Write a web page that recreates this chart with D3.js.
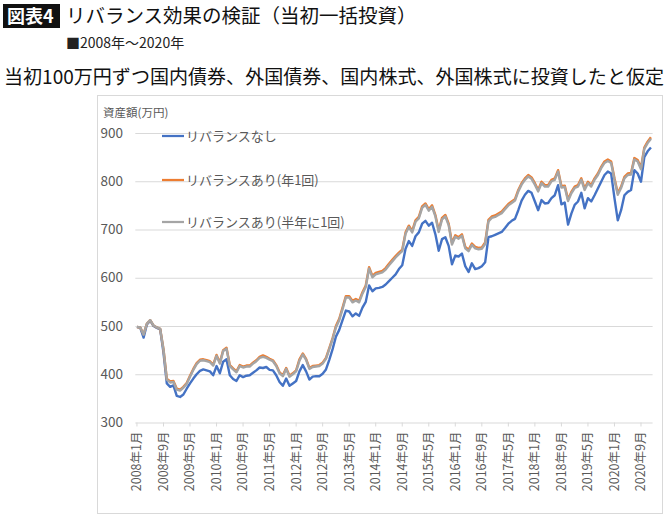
<!DOCTYPE html>
<html>
<head>
<meta charset="utf-8">
<script src="https://cdnjs.cloudflare.com/ajax/libs/d3/7.8.5/d3.min.js"></script>
<style>
  body { margin: 0; background: #fff; }
  svg { display: block; }
  text { font-family: "Noto Sans CJK JP", "Noto Sans", sans-serif; }
</style>
</head>
<body>
<div id="chart"></div>
<script>
// monthly categories, 2008-01 .. 2020-12
var months = d3.timeMonths(new Date(2008, 0, 1), new Date(2021, 0, 1));

// series (万円), one row per year
var noRebalance = [
  498,496,476,503,511,500,496,493,445,381,374,377,
  355,353,358,370,381,391,400,407,410,408,406,398,
  417,402,426,431,398,390,386,398,394,397,398,403,
  408,414,413,415,409,408,398,384,376,391,376,381,
  386,406,419,406,389,395,396,396,401,410,430,452,
  478,492,512,532,530,520,526,521,538,550,584,572,
  578,579,581,586,593,600,607,618,626,660,676,666,
  686,694,712,718,708,714,690,656,680,684,666,628,
  646,644,650,624,612,630,618,620,624,632,684,686,
  689,692,695,703,712,718,722,740,760,772,780,776,
  758,740,761,754,755,765,771,792,752,756,710,733,
  751,758,776,744,765,758,771,785,799,813,820,816,
  765,719,740,771,778,782,823,816,799,850,862,870
];
var yearly = [
  498,497,483,505,512,501,497,494,452,391,385,386,
  370,368,374,382,397,411,423,430,431,429,427,420,
  440,424,450,455,419,412,406,419,416,418,418,424,
  429,436,439,436,432,429,419,404,398,413,397,402,
  408,431,443,432,413,417,418,419,424,434,454,475,
  500,515,538,562,562,552,556,552,570,584,622,604,
  610,612,614,620,629,637,645,652,658,694,708,697,
  719,726,748,754,742,750,730,698,724,730,712,672,
  688,684,690,664,658,671,664,662,663,673,720,727,
  729,733,737,745,753,758,763,782,796,806,813,808,
  796,782,799,792,792,803,806,823,790,791,762,778,
  789,792,806,785,799,792,806,816,830,841,845,841,
  806,775,789,809,816,817,848,844,828,870,882,891
];
var halfYearly = [
  498,497,482,505,512,501,497,494,451,389,383,384,
  368,366,372,380,395,409,421,428,429,427,425,418,
  438,422,448,453,417,410,404,417,414,416,416,422,
  427,434,436,434,430,427,417,402,396,411,395,400,
  406,428,441,430,411,415,416,417,422,432,452,473,
  497,512,535,559,559,549,553,549,567,581,619,601,
  607,609,611,617,626,634,642,649,655,691,705,694,
  716,723,745,751,739,747,727,695,721,727,709,669,
  685,681,687,661,655,668,661,659,660,670,717,724,
  726,730,734,742,750,755,760,779,793,803,810,805,
  793,779,796,789,789,800,803,820,787,788,759,775,
  786,789,803,782,796,789,803,813,827,838,842,838,
  803,772,786,806,813,814,845,841,825,867,879,888
];

var seriesNames = ["リバランスなし", "リバランスあり(年1回)", "リバランスあり(半年に1回)"];
var seriesColors = ["#4472C4", "#ED7D31", "#A5A5A5"];
var yTicks = [300, 400, 500, 600, 700, 800, 900];
var xTickLabels = ["2008年1月","2008年9月","2009年5月","2010年1月","2010年9月","2011年5月",
  "2012年1月","2012年9月","2013年5月","2014年1月","2014年9月","2015年5月","2016年1月",
  "2016年9月","2017年5月","2018年1月","2018年9月","2019年5月","2020年1月","2020年9月"];

var W = 670, H = 519;
var svg = d3.select("#chart").append("svg").attr("width", W).attr("height", H);

// header
svg.append("rect").attr("x", 3).attr("y", 4).attr("width", 57).attr("height", 24).attr("fill", "#111");
svg.append("text").attr("x", 7).attr("y", 23).attr("fill", "#fff")
  .style("font-size", "18px").style("font-weight", "bold").text("図表4");
svg.append("text").attr("x", 66).attr("y", 23).attr("fill", "#111")
  .style("font-size", "19.5px").text("リバランス効果の検証（当初一括投資）");
svg.append("text").attr("x", 66).attr("y", 48).attr("fill", "#222")
  .style("font-size", "14px").text("■2008年～2020年");
svg.append("text").attr("x", 4).attr("y", 84).attr("fill", "#111")
  .attr("textLength", 660).attr("lengthAdjust", "spacingAndGlyphs")
  .style("font-size", "19px").text("当初100万円ずつ国内債券、外国債券、国内株式、外国株式に投資したと仮定");

// chart frame
svg.append("rect").attr("x", 97.5).attr("y", 95.5).attr("width", 565).attr("height", 418)
  .attr("fill", "#fff").attr("stroke", "#d9d9d9");

var x = d3.scaleBand().domain(d3.range(months.length)).range([135.3, 652.6]);
var cx = function(i) { return x(i) + x.bandwidth() / 2; };
var y = d3.scaleLinear().domain([300, 900]).range([422.5, 133]);

// gridlines
svg.append("g").selectAll("line").data(yTicks).enter().append("line")
  .attr("x1", 135.3).attr("x2", 652.6)
  .attr("y1", function(d) { return y(d) + 0.5; })
  .attr("y2", function(d) { return y(d) + 0.5; })
  .attr("stroke", "#d9d9d9").attr("stroke-width", 1);

svg.append("g").selectAll("text").data(yTicks).enter().append("text")
  .attr("x", 123).attr("y", function(d) { return y(d); }).attr("dy", "0.35em")
  .attr("text-anchor", "end").attr("fill", "#595959").style("font-size", "13.5px")
  .text(function(d) { return d; });

svg.append("text").attr("x", 103).attr("y", 117).attr("fill", "#595959")
  .style("font-size", "11.5px").text("資産額(万円)");

// x labels
var labelIdx = xTickLabels.map(function(l) {
  var m = l.match(/(\d+)年(\d+)月/);
  return (+m[1] - 2008) * 12 + (+m[2] - 1);
});
svg.append("g").selectAll("line").data(labelIdx).enter().append("line")
  .attr("x1", function(d) { return cx(d); }).attr("x2", function(d) { return cx(d); })
  .attr("y1", y(300)).attr("y2", y(300) + 4).attr("stroke", "#d9d9d9");
svg.append("g").selectAll("text").data(xTickLabels).enter().append("text")
  .attr("transform", function(d, i) { return "translate(" + cx(labelIdx[i]) + "," + (y(300) + 9) + ") rotate(-90)"; })
  .attr("dy", "0.35em").attr("text-anchor", "end").attr("fill", "#595959")
  .style("font-size", "12.5px").text(function(d) { return d; });

// lines
var series = [noRebalance, yearly, halfYearly];
var line = d3.line().x(function(d, i) { return cx(i); }).y(function(d) { return y(d); });
svg.append("g").selectAll("path").data(series).enter().append("path")
  .attr("d", line).attr("fill", "none")
  .attr("stroke", function(d, i) { return seriesColors[i]; })
  .attr("stroke-width", 2.4).attr("stroke-linejoin", "round");

// legend
var legY = [136, 180, 222];
var leg = svg.append("g").selectAll("g").data(seriesNames).enter().append("g")
  .attr("transform", function(d, i) { return "translate(162," + legY[i] + ")"; });
leg.append("line").attr("x1", 0).attr("x2", 22).attr("stroke-width", 2.25)
  .attr("stroke", function(d, i) { return seriesColors[i]; });
leg.append("text").attr("x", 24).attr("dy", "0.35em").attr("fill", "#595959")
  .style("font-size", "13px").text(function(d) { return d; });
</script>
</body>
</html>
